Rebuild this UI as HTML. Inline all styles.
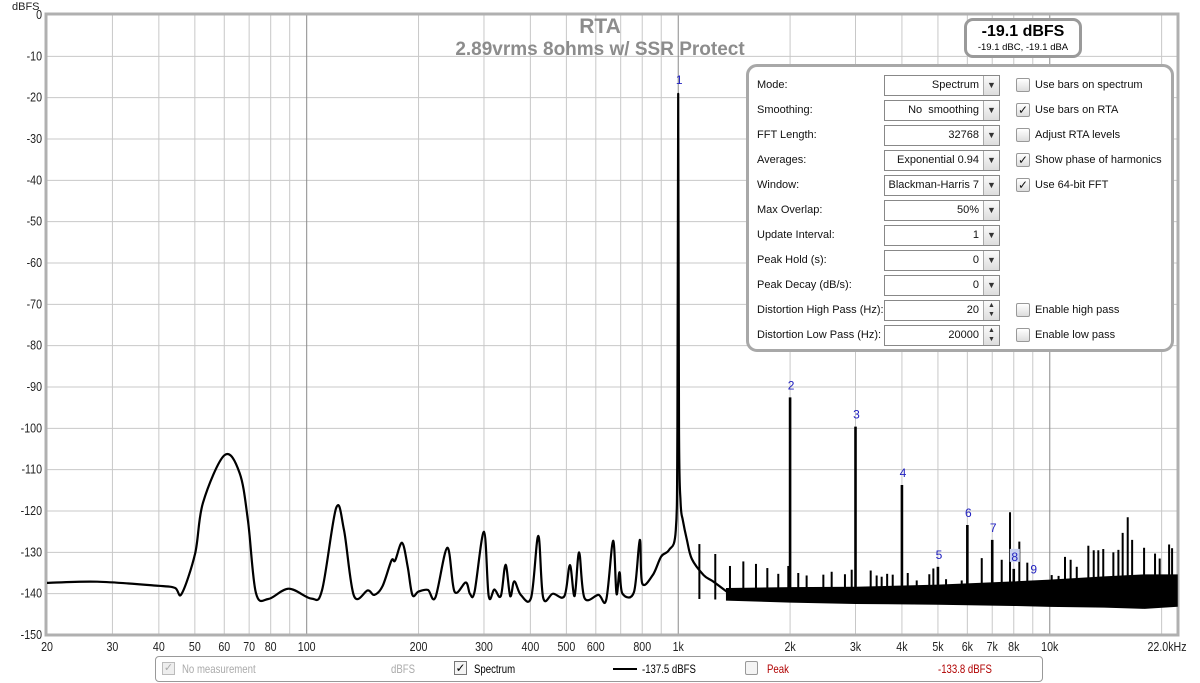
<!DOCTYPE html>
<html><head><meta charset="utf-8">
<style>
body{margin:0;background:#fff;width:1200px;height:683px;overflow:hidden;font-family:"Liberation Sans",sans-serif}
svg{position:absolute;left:0;top:0}
.nar{display:inline-block;transform:scaleX(0.8);transform-origin:left center;white-space:nowrap}
</style></head>
<body>
<svg id="chart" width="1200" height="683" xmlns="http://www.w3.org/2000/svg"></svg>
<script>
// ---- data ----
const yTicks=[0,-10,-20,-30,-40,-50,-60,-70,-80,-90,-100,-110,-120,-130,-140,-150];
const xTickFreqs=[20,30,40,50,60,70,80,100,200,300,400,500,600,800,1000,2000,3000,4000,5000,6000,7000,8000,10000,22000];
const xTickLabels=["20","30","40","50","60","70","80","100","200","300","400","500","600","800","1k","2k","3k","4k","5k","6k","7k","8k","10k","22.0kHz"];
const curveFreq=[20,27.3,40,44.2,46.1,50.1,52.6,60.1,66,69.5,73,78.8,89.5,103,110,120,126,134,146,152,160,169,173,180.6,187,192.5,200,212,222,239,250,268,275,283,300,309,320,333,343,353,362,377,402,420,433,460,494,511,526,541,559,610,640,668,682,695,708,760,788,800,855,900,945,985,995,1000,1005,1015,1029,1055,1088,1170,1240,1350];
const curveDb=[-137.4,-137.1,-138.1,-138.6,-140,-130.2,-118,-106.5,-110.8,-122.4,-139.8,-141.3,-138.8,-141.2,-139.1,-119.3,-124.6,-140.5,-139.2,-140.3,-138.2,-132,-132,-127.7,-133.5,-140.3,-139.5,-139.1,-140.9,-128.9,-139.5,-137.3,-140,-139.5,-125,-140.6,-139,-140.6,-133,-140.6,-137,-140.3,-140.9,-126,-141,-140,-140.6,-133.1,-140.6,-130,-141,-140.3,-141.5,-127.2,-140,-134.8,-140,-139.6,-127,-137.5,-135.4,-131,-129.4,-124.6,-100,-19.1,-100,-118,-122.2,-127,-131.6,-135.5,-137,-139.5];
const floorFreq=[1350,2000,3000,5000,8000,10000,14000,18000,22000];
const floorHi=[-138.8,-138.6,-138.5,-138,-137.2,-136.8,-136,-135.5,-135.5];
const floorLo=[-141.5,-142,-142.3,-142.5,-142.8,-143,-143.2,-143.5,-143];
const spikeFreq=[1140,1258,1378,1497,1619,1737,1859,1978,2104,2216,2458,2588,2810,2930,3296,3420,3528,3650,3778,4147,4384,4740,4860,5258,5794,6560,7424,7816,8280,8700,10120,10560,10990,11380,11820,12700,13130,13510,13930,14830,15300,15710,16210,16660,17940,19200,19760,20950,21340];
const spikeDb=[-128,-130.4,-133.3,-132.2,-132.8,-133.8,-135.2,-133.3,-135,-135.6,-135.4,-134.7,-135.3,-134.2,-134.4,-135.6,-135.9,-135.2,-135.4,-135,-136.8,-135.3,-133.9,-136.5,-136.8,-131.4,-131.8,-120.3,-127.4,-132.5,-135.5,-135.7,-131.1,-131.8,-133.5,-128.4,-129.5,-129.5,-129.2,-130,-129.4,-125.3,-121.5,-127,-128.9,-130.3,-131.5,-128.1,-129];
const harmFreq=[2000,3000,4000,5000,6000,7000,8000,9000];
const harmDb=[-92.5,-99.6,-113.7,-133.5,-123.4,-127,-134,-137];
const harmLabels=["2","3","4","5","6","7","8","9"];

// ---- axes ----
const X0=47,X1=1177,Y0=15,Y1=635;
const LF=Math.log10(20),LR=Math.log10(22000)-LF;
const xS=f=>X0+(X1-X0)*(Math.log10(f)-LF)/LR;
const yS=d=>Y0+(Y1-Y0)*(-d)/150;
const NS="http://www.w3.org/2000/svg";
const svg=document.getElementById('chart');
function mk(t,a,p){const e=document.createElementNS(NS,t);for(const k in a)e.setAttribute(k,a[k]);(p||svg).appendChild(e);return e;}
const lerp=(fa,va,f)=>{for(let i=0;i<fa.length-1;i++){if(f<=fa[i+1]){const t=(Math.log10(f)-Math.log10(fa[i]))/(Math.log10(fa[i+1])-Math.log10(fa[i]));return va[i]+(va[i+1]-va[i])*t;}}return va[va.length-1];};
function narText(x,y,str,anchor,size,fill,parent){
  const g=mk('g',{transform:`translate(${x},${y}) scale(0.82,1)`},parent);
  const t=mk('text',{x:0,y:0,'text-anchor':anchor,'font-size':size,fill:fill},g);t.textContent=str;return t;
}

// grid
const grid=mk('g',{});


yTicks.forEach(d=>{mk('line',{x1:X0,x2:X1,y1:yS(d),y2:yS(d),stroke:'#c8c8c8','stroke-width':1},grid);});
[20,30,40,50,60,70,80,90,100,200,300,400,500,600,700,800,900,1000,2000,3000,4000,5000,6000,7000,8000,9000,10000,20000].forEach(f=>{
  const major=(f===100||f===1000||f===10000);
  mk('line',{x1:xS(f),x2:xS(f),y1:Y0,y2:Y1,stroke:major?'#8a8a8a':'#c8c8c8','stroke-width':1},grid);
});
mk('rect',{x:X0-1,y:Y0-1,width:X1-X0+2,height:Y1-Y0+1,fill:'none',stroke:'#b0b0b0','stroke-width':3},grid);

// tick labels
yTicks.forEach(d=>{const t=narText(42,yS(d)+4,String(d),'end',13,'#222');

});
xTickFreqs.forEach((f,i)=>{const t=narText(xS(f)+(i===xTickFreqs.length-1?-10:0),651,xTickLabels[i],'middle',13,'#222');

});
const yt=mk('text',{x:12,y:10,'font-size':11,fill:'#222'});yt.textContent='dBFS';



// title
const t1=mk('text',{x:600,y:33,'text-anchor':'middle','font-size':21,'font-weight':'bold',fill:'#8c8c8c'});t1.textContent='RTA';


const t2=mk('text',{x:600,y:55,'text-anchor':'middle','font-size':19,'font-weight':'bold',fill:'#8c8c8c'});t2.textContent='2.89vrms 8ohms w/ SSR Protect';



// series
const ser=mk('g',{});


const P=curveFreq.map((f,i)=>[xS(f),yS(curveDb[i])]);
let d='M'+P[0][0].toFixed(1)+','+P[0][1].toFixed(1);
for(let i=0;i<P.length-1;i++){
  const p0=P[Math.max(0,i-1)],p1=P[i],p2=P[i+1],p3=P[Math.min(P.length-1,i+2)];
  const sharp=(curveDb[i]>-60||curveDb[i+1]>-60);
  if(sharp){d+='L'+p2[0].toFixed(1)+','+p2[1].toFixed(1);continue;}
  const c1=[p1[0]+(p2[0]-p0[0])/6,p1[1]+(p2[1]-p0[1])/6];
  const c2=[p2[0]-(p3[0]-p1[0])/6,p2[1]-(p3[1]-p1[1])/6];
  c1[0]=Math.min(Math.max(c1[0],p1[0]),p2[0]);c2[0]=Math.min(Math.max(c2[0],p1[0]),p2[0]);
  d+='C'+c1[0].toFixed(1)+','+c1[1].toFixed(1)+' '+c2[0].toFixed(1)+','+c2[1].toFixed(1)+' '+p2[0].toFixed(1)+','+p2[1].toFixed(1);
}
const cp=mk('path',{d:d,fill:'none',stroke:'#000','stroke-width':2.2,'stroke-linejoin':'round'},ser);


let bd='';floorFreq.forEach((f,i)=>{bd+=(i?'L':'M')+xS(f).toFixed(1)+','+yS(floorHi[i]).toFixed(1);});
for(let i=floorFreq.length-1;i>=0;i--)bd+='L'+xS(floorFreq[i]).toFixed(1)+','+yS(floorLo[i]).toFixed(1);
const band=mk('path',{d:bd+'Z',fill:'#000',stroke:'#000','stroke-width':1.5},ser);


spikeFreq.forEach((f,i)=>{const x=xS(f);const l=mk('line',{x1:x,x2:x,y1:yS(spikeDb[i]),y2:yS(lerp(floorFreq,floorLo,f)),stroke:'#000','stroke-width':2},ser);

});
const f1=mk('text',{x:xS(1000)+1,y:yS(-19.1)-10,'text-anchor':'middle','font-size':12,fill:'#2020c0'});f1.textContent='1';


harmFreq.forEach((f,i)=>{const x=xS(f);const l=mk('line',{x1:x,x2:x,y1:yS(harmDb[i]),y2:yS(lerp(floorFreq,floorLo,f)),stroke:'#000','stroke-width':2.6},ser);


if(harmLabels[i]==='8')mk('rect',{x:x-4,y:yS(harmDb[i])-20,width:10,height:13,fill:'#c8d0f0'});
const t=mk('text',{x:x+1,y:yS(harmDb[i])-8,'text-anchor':'middle','font-size':12,fill:'#2020c0'});t.textContent=harmLabels[i];

});
</script>

<!-- level readout -->
<div style="position:absolute;left:964px;top:18px;width:112px;height:34px;border:3px solid #9a9a9a;border-radius:9px;background:#fff;text-align:center">
<div style="font-size:16px;font-weight:bold;margin-top:2px">-19.1 dBFS</div>
<div style="font-size:9.5px;margin-top:1px">-19.1 dBC, -19.1 dBA</div></div>

<!-- settings panel -->
<div style="position:absolute;left:746px;top:64px;width:422px;height:282px;border:3px solid #a8a8a8;border-radius:11px;background:#fff;font-size:11px;color:#111">
<div id="rows"></div></div>
<script>
const rowLabels=["Mode:","Smoothing:","FFT Length:","Averages:","Window:","Max Overlap:","Update Interval:","Peak Hold (s):","Peak Decay (dB/s):","Distortion High Pass (Hz):","Distortion Low Pass (Hz):"];
const rowValues=["Spectrum","No  smoothing","32768","Exponential 0.94","Blackman-Harris 7","50%","1","0","0","20","20000"];
const checks=[["Use bars on spectrum",false],["Use bars on RTA",true],["Adjust RTA levels",false],["Show phase of harmonics",true],["Use 64-bit FFT",true],null,null,null,null,["Enable high pass",false],["Enable low pass",false]];
const rows=document.getElementById('rows');
let h='';
rowLabels.forEach((l,i)=>{const top=8+i*25;const spin=i>=9;
h+=`<div style="position:absolute;left:8px;top:${top+4}px;white-space:nowrap">${l}</div>`;
h+=`<div style="position:absolute;left:135px;top:${top}px;width:114px;height:19px;border:1px solid #888;background:#fff"><span style="position:absolute;right:20px;top:3px;white-space:pre">${rowValues[i]}</span><span style="position:absolute;right:0;top:0;width:15px;height:19px;border-left:1px solid #aaa;background:linear-gradient(#fafafa,#ddd);text-align:center;font-size:${spin?7:9}px;line-height:${spin?9:19}px;color:#333">${spin?'▲<br>▼':'▼'}</span></div>`;
if(checks[i]){h+=`<div style="position:absolute;left:267px;top:${top+3}px;width:12px;height:12px;border:1px solid #999;border-radius:2px;background:linear-gradient(#fff,#ddd);font-size:12px;line-height:12px;text-align:center">${checks[i][1]?'✓':''}</div><div style="position:absolute;left:286px;top:${top+4}px;white-space:nowrap">${checks[i][0]}</div>`;}
});
rows.innerHTML=h;
</script>

<!-- legend -->
<div style="position:absolute;left:155px;top:656px;width:886px;height:24px;border:1px solid #999;border-radius:4px;font-size:12px">
<div style="position:absolute;left:6px;top:5px;width:11px;height:11px;border:1px solid #bbb;background:#eee;color:#aaa;font-size:11px;line-height:11px;text-align:center">✓</div>
<div style="position:absolute;left:26px;top:5px;color:#aaa"><span class="nar">No measurement</span></div>
<div style="position:absolute;left:235px;top:5px;color:#aaa"><span class="nar">dBFS</span></div>
<div style="position:absolute;left:298px;top:4px;width:11px;height:12px;border:1px solid #777;background:#f4f4f4;font-size:12px;line-height:12px;text-align:center">✓</div>
<div style="position:absolute;left:318px;top:5px"><span class="nar">Spectrum</span></div>
<div style="position:absolute;left:457px;top:11px;width:24px;height:2px;background:#000"></div>
<div style="position:absolute;left:486px;top:5px"><span class="nar">-137.5 dBFS</span></div>
<div style="position:absolute;left:589px;top:4px;width:11px;height:12px;border:1px solid #999;border-radius:2px;background:#f4f4f4"></div>
<div style="position:absolute;left:611px;top:5px;color:#b00000"><span class="nar">Peak</span></div>
<div style="position:absolute;left:782px;top:5px;color:#b00000"><span class="nar">-133.8 dBFS</span></div>
</div>
</body></html>
